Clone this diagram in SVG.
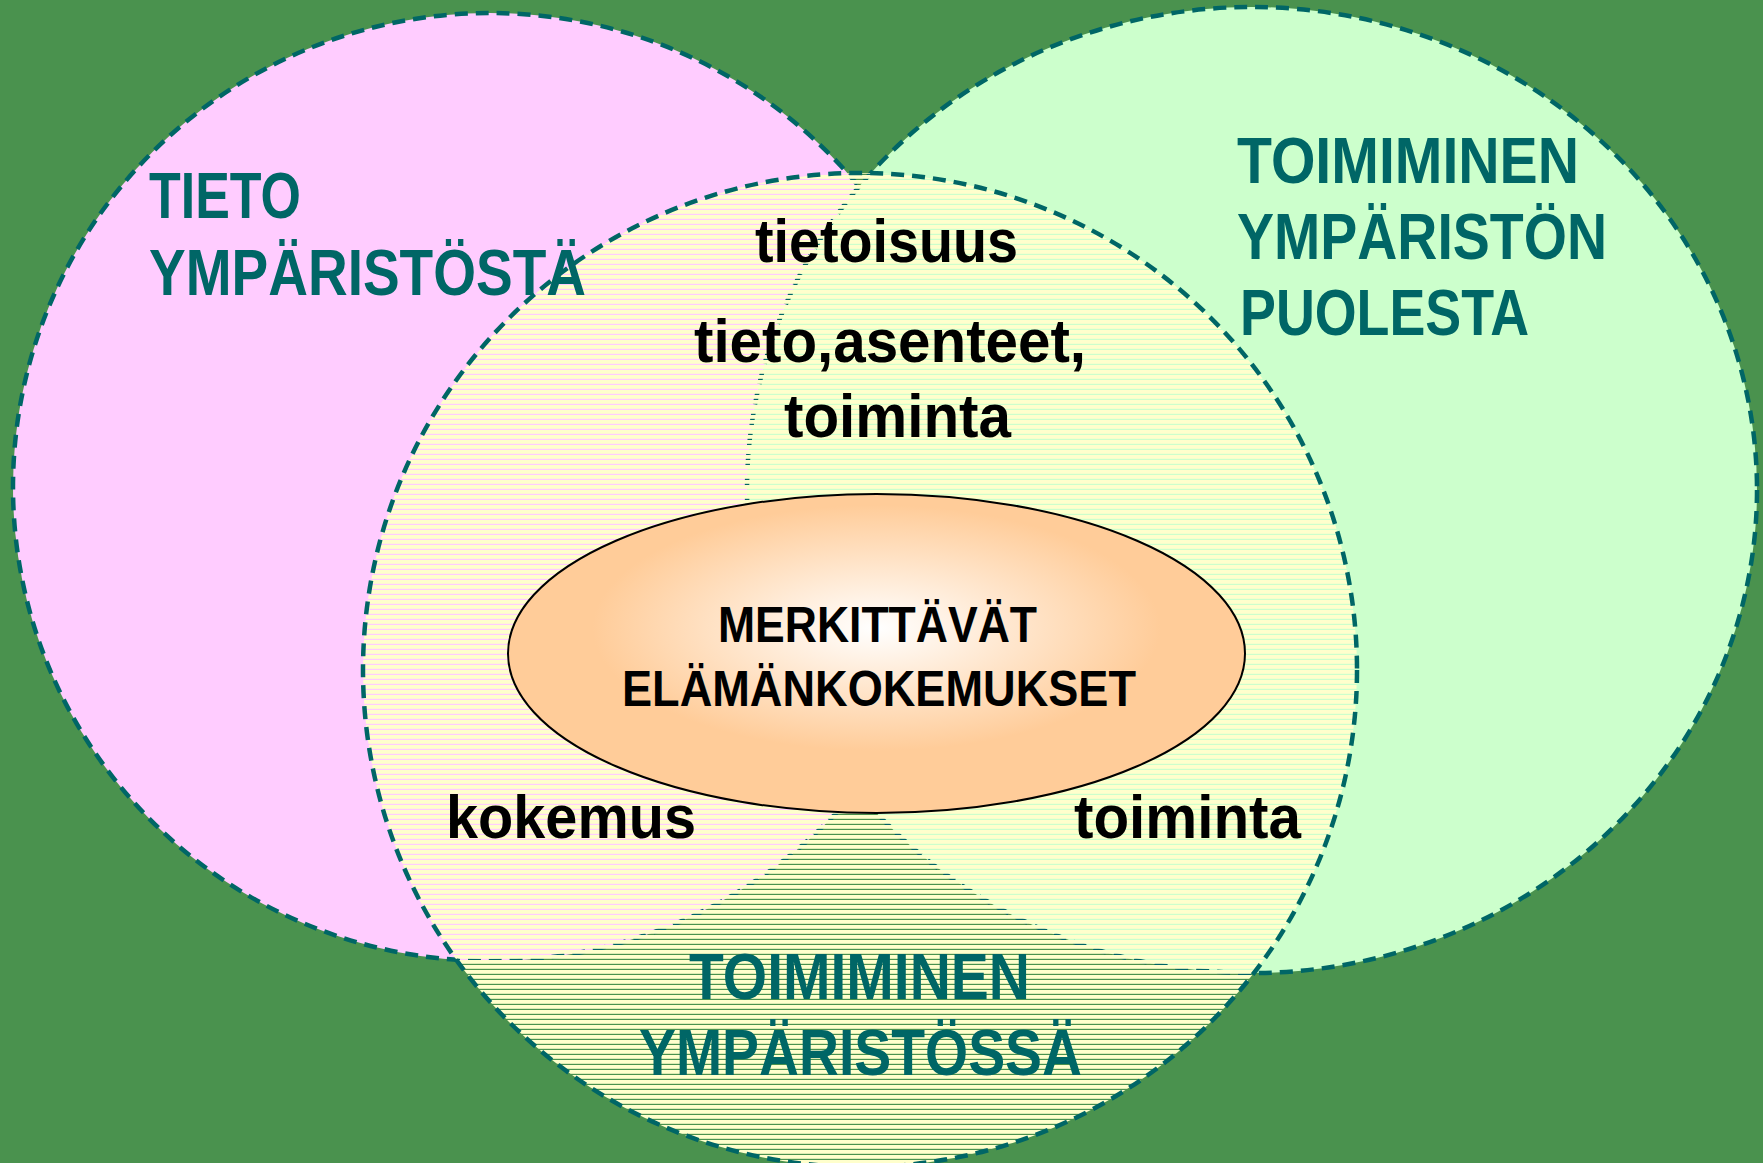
<svg xmlns="http://www.w3.org/2000/svg" width="1763" height="1163" viewBox="0 0 1763 1163">
<style>
.ring{stroke:#006666;stroke-width:4.5;stroke-dasharray:13 8}
.teal{font-family:"Liberation Sans",Arial,sans-serif;font-weight:bold;font-size:64px;fill:#006666}
.blk{font-family:"Liberation Sans",Arial,sans-serif;font-weight:bold;font-size:61px;fill:#000}
.ctr{font-family:"Liberation Sans",Arial,sans-serif;font-weight:bold;font-size:50px;fill:#000}
</style>
<defs>
<pattern id="stripes" patternUnits="userSpaceOnUse" width="20" height="5">
<rect x="0" y="0" width="20" height="3.8" fill="#FFFFCC"/>
</pattern>
<radialGradient id="peach" cx="0.5" cy="0.42" r="0.55">
<stop offset="0" stop-color="#FFFFFF"/>
<stop offset="0.7" stop-color="#FFCC99"/>
<stop offset="1" stop-color="#FFCC99"/>
</radialGradient>
</defs>
<rect x="0" y="0" width="1763" height="1163" fill="#4A924E"/>
<g id="tieto">
<ellipse cx="490" cy="487" rx="477" ry="474" fill="#FFCCFF" class="ring"/>
</g>
<g id="puolesta">
<ellipse cx="1252" cy="490" rx="505" ry="483" fill="#CCFFCC" class="ring"/>
</g>
<g id="ymparistossa">
<circle cx="860" cy="670" r="497" fill="url(#stripes)"/>
<circle cx="860" cy="670" r="497" fill="none" class="ring"/>
</g>
<g id="merkittavat">
<ellipse cx="876.5" cy="653.5" rx="368.5" ry="159.5" fill="url(#peach)" stroke="#000" stroke-width="2"/>
<text class="ctr" x="718" y="642" textLength="319" lengthAdjust="spacingAndGlyphs">MERKITTÄVÄT</text>
<text class="ctr" x="622" y="706" textLength="514" lengthAdjust="spacingAndGlyphs">ELÄMÄNKOKEMUKSET</text>
</g>
<g id="connectors"/>
<g id="labels">
<text class="teal" x="149" y="218" textLength="152" lengthAdjust="spacingAndGlyphs">TIETO</text>
<text class="teal" x="149" y="295" textLength="437" lengthAdjust="spacingAndGlyphs">YMPÄRISTÖSTÄ</text>
<text class="teal" x="1237" y="183" textLength="342" lengthAdjust="spacingAndGlyphs">TOIMIMINEN</text>
<text class="teal" x="1237" y="259" textLength="370" lengthAdjust="spacingAndGlyphs">YMPÄRISTÖN</text>
<text class="teal" x="1240" y="335" textLength="289" lengthAdjust="spacingAndGlyphs">PUOLESTA</text>
<text class="teal" x="689" y="999" textLength="341" lengthAdjust="spacingAndGlyphs">TOIMIMINEN</text>
<text class="teal" x="639" y="1075" textLength="443" lengthAdjust="spacingAndGlyphs">YMPÄRISTÖSSÄ</text>
<text class="blk" x="755" y="262" textLength="263" lengthAdjust="spacingAndGlyphs">tietoisuus</text>
<text class="blk" x="694" y="362" textLength="392" lengthAdjust="spacingAndGlyphs">tieto,asenteet,</text>
<text class="blk" x="784" y="437" textLength="227" lengthAdjust="spacingAndGlyphs">toiminta</text>
<text class="blk" x="446" y="838" textLength="250" lengthAdjust="spacingAndGlyphs">kokemus</text>
<text class="blk" x="1074" y="838" textLength="227" lengthAdjust="spacingAndGlyphs">toiminta</text>
</g>
</svg>
